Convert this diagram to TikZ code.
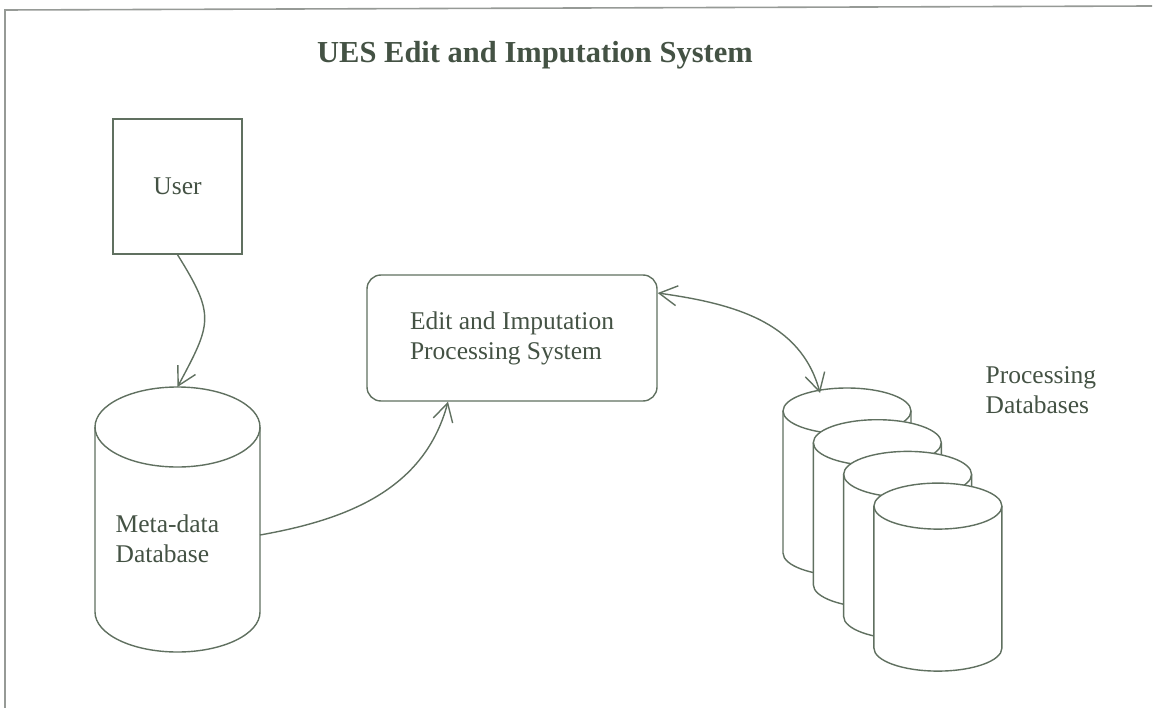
\documentclass[tikz,border=0pt]{standalone}
\usepackage{fontspec}
\setmainfont{Liberation Serif}
\usepackage{tikz}
\usetikzlibrary{arrows.meta,positioning}

\definecolor{inkline}{RGB}{96,112,96}
\definecolor{inktext}{RGB}{68,82,68}
\definecolor{framegray}{RGB}{150,154,150}

\begin{document}
\begin{tikzpicture}[
    x=1pt, y=1pt,
    line width=1.4pt,
    title/.style={font=\fontsize{30.5}{36}\selectfont\bfseries, text=inktext, inner sep=0pt, anchor=base},
    lbl/.style={font=\fontsize{25.5}{30}\selectfont, text=inktext, align=left, inner sep=0pt},
    userbox/.style={rectangle, draw=inkline, minimum width=129pt, minimum height=135pt, lbl},
    procbox/.style={rectangle, draw=inkline, rounded corners=14pt, minimum width=290pt, minimum height=126pt, lbl},
    cyl/.style={draw=inkline, fill=white},
    flow/.style={draw=inkline, -{Straight Barb[length=18pt, width=20pt]}},
    flow2/.style={draw=inkline, {Straight Barb[length=18pt, width=20pt]}-{Straight Barb[length=18pt, width=20pt]}},
]
    \useasboundingbox (0,0) rectangle (1155,-708);

    % page frame
    \draw[framegray, line width=1.6pt] (5,-708) -- (5,-10) -- (1152,-6);

    % title
    \node[title] (title) at (535,-63) {UES Edit and Imputation System};

    % user and processing system
    \node[userbox] (user) at (177.5,-186.5) {User};
    \node[procbox] (eips) at (512,-338) {Edit and Imputation\\Processing System};

    % meta-data database
    \draw[cyl] (95,-427) -- (95,-612) arc[start angle=180, end angle=360, x radius=82.5pt, y radius=40pt]
        -- (260,-427) arc[start angle=0, end angle=180, x radius=82.5pt, y radius=40pt] -- cycle;
    \draw[inkline] (95,-427) arc[start angle=180, end angle=360, x radius=82.5pt, y radius=40pt];
    \node[lbl, anchor=west] (meta) at (115,-539) {Meta-data\\Database};
    \coordinate (meta-top) at (177.5,-387);
    \coordinate (meta-east) at (260,-535);

    % processing databases
    \foreach \i in {0,...,3} {
        \pgfmathsetmacro{\cx}{847+30.3*\i}
        \pgfmathsetmacro{\ty}{411+31.7*\i}
        \draw[cyl] (\cx-64,-\ty) -- (\cx-64,-\ty-142) arc[start angle=180, end angle=360, x radius=64pt, y radius=23pt]
            -- (\cx+64,-\ty) arc[start angle=0, end angle=180, x radius=64pt, y radius=23pt] -- cycle;
        \draw[inkline] (\cx-64,-\ty) arc[start angle=180, end angle=360, x radius=64pt, y radius=23pt];
    }
    \node[lbl, anchor=west] (pdb) at (985,-390) {Processing\\Databases};
    \coordinate (pdb-top) at (820,-393);

    % connectors
    \draw[flow] (user.south) to[out=-58, in=62, looseness=1.4] (meta-top);
    \draw[flow] (meta-east) to[out=10, in=-105] ([xshift=-64pt]eips.south);
    \draw[flow2] ([yshift=45pt]eips.east) to[out=-8, in=105] (pdb-top);

\end{tikzpicture}
\end{document}
